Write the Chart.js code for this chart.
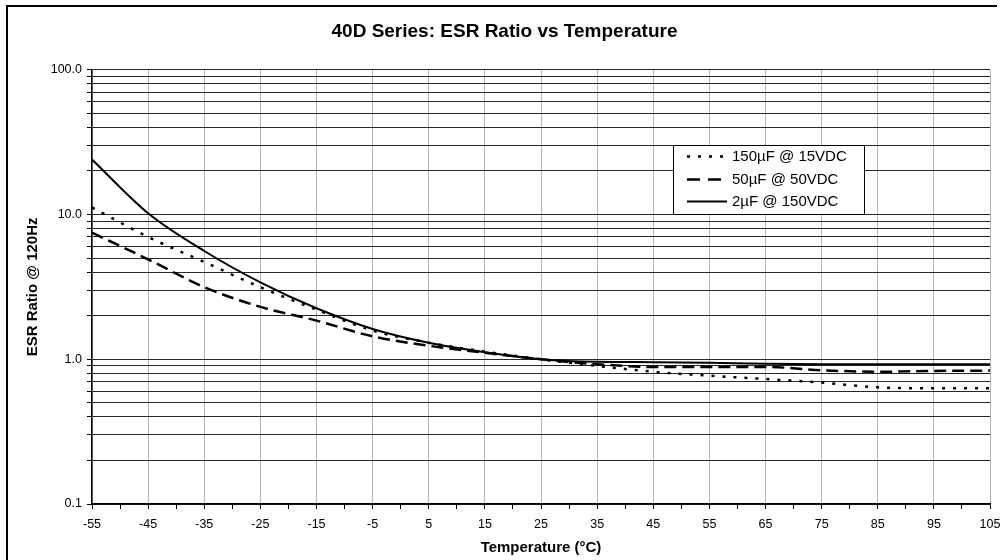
<!DOCTYPE html>
<html><head><meta charset="utf-8">
<script src="https://cdn.jsdelivr.net/npm/chart.js@4/dist/chart.umd.min.js"></script>
<style>html,body{margin:0;padding:0;background:#fff;} canvas{display:block;}</style>
</head><body>
<canvas id="c" width="1001" height="560"></canvas>
<script>
// ---- data ----
const temperatures = [-55, -45, -35, -25, -15, -5, 5, 15, 25, 35, 45, 55, 65, 75, 85, 95, 105];
const esr150uF15V = [11.2, 7.0, 4.7, 3.15, 2.2, 1.58, 1.3, 1.13, 1.0, 0.9, 0.82, 0.77, 0.73, 0.69, 0.64, 0.63, 0.63];
const esr50uF50V  = [7.5, 4.9, 3.15, 2.3, 1.85, 1.44, 1.24, 1.11, 1.0, 0.925, 0.885, 0.885, 0.885, 0.84, 0.82, 0.83, 0.835];
const esr2uF150V  = [24, 10.2, 5.6, 3.4, 2.25, 1.62, 1.3, 1.12, 1.0, 0.96, 0.955, 0.945, 0.93, 0.925, 0.925, 0.925, 0.925];
const seriesLabels = ['150µF @ 15VDC', '50µF @ 50VDC', '2µF @ 150VDC'];
const xTickLabels = [-55, -45, -35, -25, -15, -5, 5, 15, 25, 35, 45, 55, 65, 75, 85, 95, 105];
const xAllTicks = [-55, -50, -45, -40, -35, -30, -25, -20, -15, -10, -5, 0, 5, 10, 15, 20, 25, 30, 35, 40, 45, 50, 55, 60, 65, 70, 75, 80, 85, 90, 95, 100, 105];
const yTickLabels = [0.1, 1, 10, 100];
const yGridValues = [0.1, 0.2, 0.3, 0.4, 0.5, 0.6, 0.7, 0.8, 0.9,
                     1, 2, 3, 4, 5, 6, 7, 8, 9,
                     10, 20, 30, 40, 50, 60, 70, 80, 90, 100];

const FONT = "'Liberation Sans', Arial, sans-serif";

const pts = arr => temperatures.map((t, i) => ({x: t, y: arr[i]}));

const frame = {
  id: 'frame',
  beforeDraw(chart) {
    const c = chart.ctx;
    c.save();
    c.fillStyle = '#fff';
    c.fillRect(0, 0, chart.width, chart.height);
    c.strokeStyle = '#000';
    c.lineWidth = 2;
    c.beginPath();
    c.moveTo(7, 570); c.lineTo(7, 6); c.lineTo(997, 6);
    c.stroke();
    c.restore();
  }
};

const legendBox = {
  id: 'legendBox',
  afterDatasetsDraw(chart) {
    const c = chart.ctx;
    const x = 673, y = 145, w = 191, h = 69;
    c.save();
    c.fillStyle = '#fff';
    c.fillRect(x, y, w, h);
    c.strokeStyle = '#000';
    c.lineWidth = 1;
    c.strokeRect(x + 0.5, y + 0.5, w, h);
    const rows = [156.5, 179.5, 201.5];
    chart.data.datasets.forEach((ds, i) => {
      c.beginPath();
      c.strokeStyle = '#000';
      c.lineWidth = ds.borderWidth;
      c.setLineDash(ds.legendDash || []);
      c.moveTo(687, rows[i]);
      c.lineTo(727, rows[i]);
      c.stroke();
      c.setLineDash([]);
      c.fillStyle = '#000';
      c.font = '15px ' + FONT;
      c.textBaseline = 'middle';
      c.textAlign = 'left';
      c.fillText(ds.label, 732, rows[i] + 0.5);
    });
    c.restore();
  }
};

new Chart(document.getElementById('c'), {
  type: 'line',
  data: {
    datasets: [
      {label: seriesLabels[0], data: pts(esr150uF15V), borderColor: '#000', borderWidth: 2.5, borderDash: [3, 8], legendDash: [3, 8], pointRadius: 0, cubicInterpolationMode: 'monotone', fill: false},
      {label: seriesLabels[1], data: pts(esr50uF50V), borderColor: '#000', borderWidth: 2.5, borderDash: [12, 6], legendDash: [13, 8], pointRadius: 0, cubicInterpolationMode: 'monotone', fill: false},
      {label: seriesLabels[2], data: pts(esr2uF150V), borderColor: '#000', borderWidth: 2, pointRadius: 0, cubicInterpolationMode: 'monotone', fill: false}
    ]
  },
  options: {
    responsive: false,
    animation: false,
    devicePixelRatio: 1,
    layout: {padding: {left: 19, right: 11, top: 0, bottom: 0}},
    plugins: {
      legend: {display: false},
      tooltip: {enabled: false},
      title: {
        display: true,
        text: '40D Series: ESR Ratio vs Temperature',
        color: '#000',
        font: {family: FONT, size: 19, weight: 'bold', lineHeight: 1.2},
        padding: {top: 20, bottom: 27}
      }
    },
    scales: {
      x: {
        type: 'linear', min: -55, max: 105,
        afterBuildTicks: s => { s.ticks = xAllTicks.map(v => ({value: v})); },
        afterFit: s => { s.height = 56; s.paddingLeft = 0; s.paddingRight = 0; },
        ticks: {
          autoSkip: false, maxRotation: 0, minRotation: 0, padding: 8, color: '#000',
          font: {family: FONT, size: 12.5},
          callback: v => xTickLabels.includes(v) ? String(v) : ''
        },
        grid: {
          color: ctx => (ctx.tick && xTickLabels.includes(ctx.tick.value)) ? '#b4b4b4' : 'rgba(0,0,0,0)',
          tickColor: '#000', tickLength: 5, lineWidth: 1
        },
        border: {color: '#000', width: 1.5},
        title: {
          display: true, text: 'Temperature (°C)', color: '#000',
          font: {family: FONT, size: 15, weight: 'bold', lineHeight: 1.2},
          padding: {top: 0, bottom: 3}
        }
      },
      y: {
        type: 'logarithmic', min: 0.1, max: 100,
        afterBuildTicks: s => { s.ticks = yGridValues.map(v => ({value: v})); },
        afterFit: s => { s.width = 73; s.paddingTop = 0; s.paddingBottom = 0; },
        ticks: {
          autoSkip: false, padding: 5, color: '#000',
          font: {family: FONT, size: 12.5},
          callback: v => yTickLabels.includes(v) ? v.toFixed(1) : ''
        },
        grid: {color: '#262626', tickColor: '#000', tickLength: 5, lineWidth: 1},
        border: {color: '#000', width: 1.5},
        title: {
          display: true, text: 'ESR Ratio @ 120Hz', color: '#000',
          font: {family: FONT, size: 15, weight: 'bold', lineHeight: 1.2},
          padding: {top: 5, bottom: 0}
        }
      }
    }
  },
  plugins: [frame, legendBox]
});
</script>
</body></html>
